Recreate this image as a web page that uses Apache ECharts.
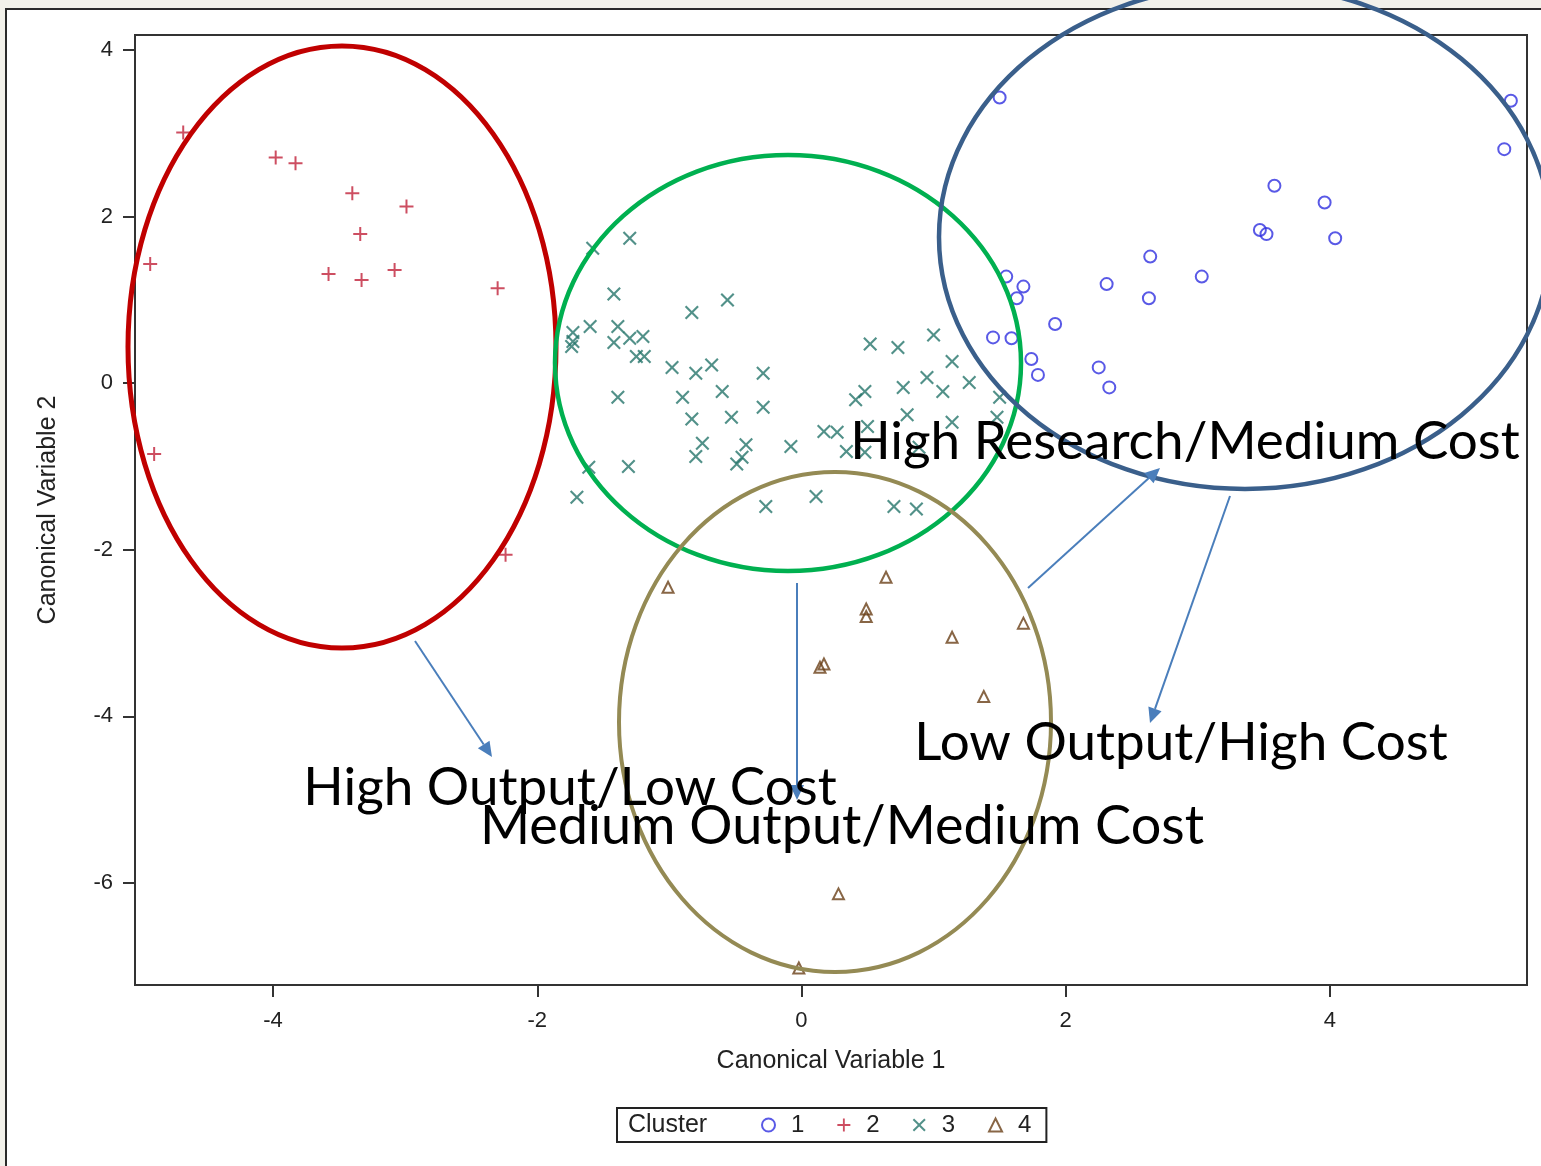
<!DOCTYPE html>
<html>
<head>
<meta charset="utf-8">
<title>Canonical Variables by Cluster</title>
<script src="https://cdn.jsdelivr.net/npm/echarts@6.0.0/dist/echarts.min.js"></script>
<style>
  * { margin: 0; padding: 0 }
  html, body { width: 100%; height: 100%; background: #f2f1ea; overflow: hidden; }
  /* white slide panel behind the chart */
  #panel { position: absolute; left: 5px; top: 8px; width: 1700px; height: 1300px;
           background: #fff; border-left: 2px solid #2a2a2a; border-top: 2px solid #2a2a2a; }
  #main { position: absolute; left: 0; top: 0; width: 1541px; height: 1166px; }
</style>
</head>
<body>
<div id="panel"></div>
<div id="main"></div>
<script>
// canonical variable 1 / 2 per cluster
var cluster1 = [[1.50,3.43],[5.37,3.39],[5.32,2.81],[3.58,2.37],[3.96,2.17],[3.47,1.84],[3.52,1.79],
  [4.04,1.74],[2.64,1.52],[3.03,1.28],[1.55,1.28],[1.68,1.16],[2.31,1.19],[1.63,1.02],[2.63,1.02],
  [1.92,0.71],[1.45,0.55],[1.59,0.54],[1.74,0.29],[1.79,0.10],[2.25,0.19],[2.33,-0.05]];
var cluster2 = [[-4.68,3.01],[-3.98,2.71],[-3.83,2.64],[-3.40,2.28],[-2.99,2.12],[-3.34,1.79],
  [-4.93,1.43],[-3.58,1.31],[-3.33,1.24],[-3.08,1.36],[-2.30,1.14],[-4.90,-0.85],[-2.24,-2.06]];
var cluster3 = [[-1.58,1.62],[-1.30,1.74],[-1.42,1.07],[-0.56,1.00],[-0.83,0.85],[-1.73,0.61],
  [-1.60,0.68],[-1.39,0.68],[-1.73,0.50],[-1.74,0.44],[-1.42,0.49],[-1.30,0.54],[-1.20,0.56],
  [-1.25,0.32],[-1.19,0.32],[-0.98,0.19],[-0.80,0.12],[-0.68,0.22],[-0.29,0.12],
  [-1.39,-0.17],[-0.90,-0.17],[-0.60,-0.10],[-0.29,-0.29],[-0.83,-0.43],[-0.53,-0.41],
  [-0.75,-0.72],[-0.80,-0.88],[-0.42,-0.74],[-0.45,-0.89],[-0.49,-0.97],[-0.08,-0.76],
  [-1.61,-1.01],[-1.31,-1.00],[-1.70,-1.37],[-0.27,-1.48],
  [1.00,0.58],[0.52,0.47],[0.73,0.43],[1.14,0.26],[0.95,0.07],[1.27,0.01],[0.77,-0.05],
  [1.07,-0.10],[0.48,-0.10],[0.41,-0.20],[1.50,-0.17],[0.80,-0.38],[1.48,-0.41],[1.14,-0.47],
  [0.17,-0.58],[0.27,-0.59],[0.50,-0.52],[0.34,-0.82],[0.48,-0.83],[0.89,-0.77],
  [0.11,-1.36],[0.70,-1.48],[0.87,-1.51]];
var cluster4 = [[-1.01,-2.45],[0.64,-2.33],[0.49,-2.71],[0.49,-2.80],[1.68,-2.88],[1.14,-3.05],
  [0.17,-3.37],[0.14,-3.41],[1.38,-3.76],[0.28,-6.13],[-0.02,-7.02]];
var clusterNames = ['1', '2', '3', '4'];
var xTicks = [-4, -2, 0, 2, 4];
var yTicks = [-6, -4, -2, 0, 2, 4];

var axisFont = 'Liberation Sans, Arial, sans-serif';
var noteFont = 'Lato, Carlito, Calibri, sans-serif';

function arrow(x1, y1, x2, y2) {
  var a = Math.atan2(y2 - y1, x2 - x1);
  var L = 15, W = 7;
  var bx = x2 - L * Math.cos(a), by = y2 - L * Math.sin(a);
  return [
    { type: 'line', z: 100, shape: { x1: x1, y1: y1, x2: bx, y2: by },
      style: { stroke: '#4a7ebb', lineWidth: 2 } },
    { type: 'polygon', z: 100, shape: { points: [[x2, y2],
        [bx + W * Math.sin(a), by - W * Math.cos(a)],
        [bx - W * Math.sin(a), by + W * Math.cos(a)]] },
      style: { fill: '#4a7ebb' } }
  ];
}
function ring(cx, cy, rx, ry, color, w) {
  return { type: 'ellipse', z: 90, shape: { cx: cx, cy: cy, rx: rx, ry: ry },
    style: { fill: 'none', stroke: color, lineWidth: w } };
}
function note(x, y, txt, size) {
  return { type: 'text', z: 110, x: x, y: y,
    style: { text: txt, fontSize: size || 53, fontFamily: noteFont, fill: '#000',
             align: 'center', verticalAlign: 'middle' } };
}

var plusPath = 'path://M6,0h2v6h6v2h-6v6h-2v-6h-6v-2h6z';
var crossPath = 'path://M0,1.5L1.5,0L7,5.5L12.5,0L14,1.5L8.5,7L14,12.5L12.5,14L7,8.5L1.5,14L0,12.5L5.5,7Z';

var graphics = [
  ring(342, 347, 214, 301, '#c00000', 5),
  ring(788, 363, 233, 208, '#00b050', 4.5),
  ring(1245, 237, 306, 252, '#3a5f8b', 4.5),
  ring(835, 722, 216, 250, '#948a54', 4),
  note(1185, 442, 'High Research/Medium Cost'),
  note(1181, 743, 'Low Output/High Cost'),
  note(570, 788, 'High Output/Low Cost'),
  note(842, 827, 'Medium Output/Medium Cost', 54),
  { type: 'text', z: 110, x: 628, y: 1125,
    style: { text: 'Cluster', fontSize: 25, fontFamily: axisFont, fill: '#222',
             align: 'left', verticalAlign: 'middle' } }
].concat(arrow(415, 641, 492, 757), arrow(797, 583, 797, 800),
         arrow(1028, 588, 1160, 468), arrow(1230, 496, 1150, 723));

var chart = echarts.init(document.getElementById('main'));
chart.setOption({
  animation: false,
  backgroundColor: 'transparent',
  grid: { left: 135, top: 35, right: 14, bottom: 181, show: true, borderColor: '#333',
          borderWidth: 2, backgroundColor: 'transparent', outerBoundsMode: 'none' },
  xAxis: {
    type: 'value', min: -5.045, max: 5.492,
    name: 'Canonical Variable 1', nameLocation: 'middle', nameGap: 64,
    nameTextStyle: { fontSize: 25, color: '#222', fontFamily: axisFont },
    axisLine: { show: true, onZero: false, lineStyle: { color: '#333', width: 2 } },
    axisTick: { show: true, customValues: xTicks, length: 12, lineStyle: { color: '#333', width: 2 } },
    axisLabel: { customValues: xTicks, margin: 25, fontSize: 22, color: '#222', fontFamily: axisFont },
    splitLine: { show: false }
  },
  yAxis: {
    type: 'value', min: -7.224, max: 4.18,
    name: 'Canonical Variable 2', nameLocation: 'middle', nameGap: 74,
    nameTextStyle: { fontSize: 25, color: '#222', fontFamily: axisFont },
    axisLine: { show: true, onZero: false, lineStyle: { color: '#333', width: 2 } },
    axisTick: { show: true, customValues: yTicks, length: 12, lineStyle: { color: '#333', width: 2 } },
    axisLabel: { customValues: yTicks, margin: 22, fontSize: 22, color: '#222', fontFamily: axisFont },
    splitLine: { show: false }
  },
  legend: {
    data: clusterNames, left: 617, top: 1108, padding: [5, 15, 5, 144],
    itemGap: 33, itemWidth: 13, itemHeight: 13, selectedMode: false,
    borderColor: '#222', borderWidth: 2,
    textStyle: { fontSize: 24, color: '#222', fontFamily: axisFont, padding: [0, 0, 0, 11] }
  },
  series: [
    { name: clusterNames[0], type: 'scatter', data: cluster1, symbol: 'circle', symbolSize: 12,
      itemStyle: { color: 'rgba(255,255,255,0)', borderColor: '#3030e0', borderWidth: 2 } },
    { name: clusterNames[1], type: 'scatter', data: cluster2, symbol: plusPath, symbolSize: 14,
      itemStyle: { color: '#c0223a' } },
    { name: clusterNames[2], type: 'scatter', data: cluster3, symbol: crossPath, symbolSize: 14,
      itemStyle: { color: '#27766b' } },
    { name: clusterNames[3], type: 'scatter', data: cluster4, symbol: 'triangle', symbolSize: 11,
      itemStyle: { color: 'rgba(255,255,255,0)', borderColor: '#6a4018', borderWidth: 2 } }
  ],
  graphic: graphics
});
</script>
</body>
</html>
